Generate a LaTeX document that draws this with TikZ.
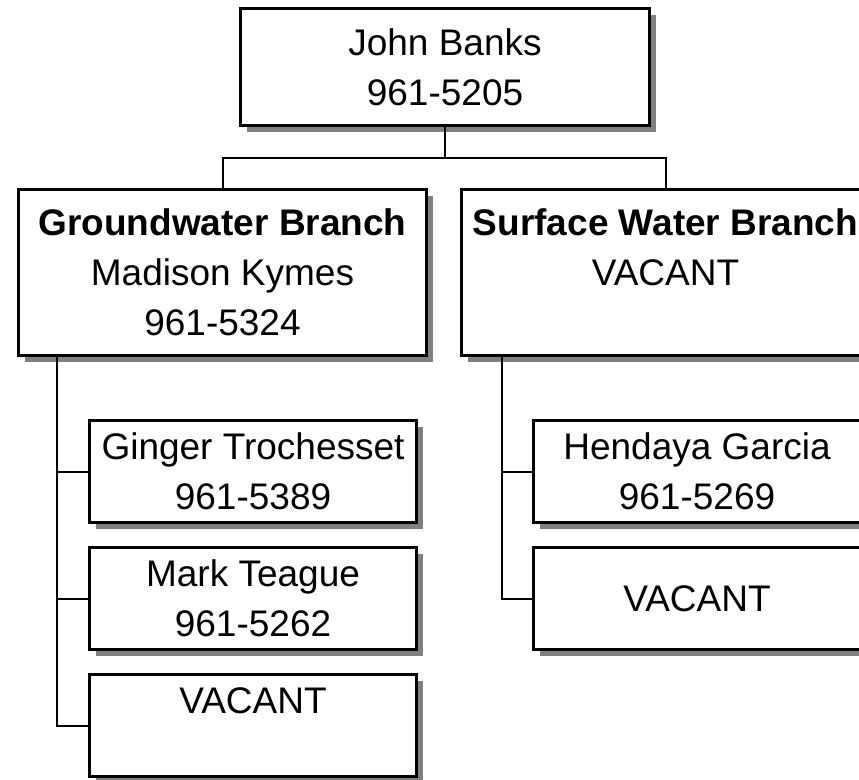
\documentclass[tikz,border=0pt]{standalone}
\usepackage{fontspec}
\setmainfont{Liberation Sans}
\usetikzlibrary{shadows}
\newcommand{\emptyline}{\rule{0pt}{1pt}}
\tikzset{
  box/.style={draw=black, line width=2.6pt, fill=white, inner sep=0pt, align=center,
    font=\fontsize{37}{50}\selectfont,
    drop shadow={shadow xshift=6pt, shadow yshift=-6pt, fill=black!50, opacity=1}},
  conn/.style={draw=black, line width=2pt}
}
\begin{document}
\begin{tikzpicture}[x=1pt,y=-1pt]
\useasboundingbox (0,0) rectangle (859,779);
\clip (0,0) rectangle (859,779);
\fill[white] (0,0) rectangle (859,779);
% boxes
\node[box, minimum width=409pt, minimum height=117pt] (top) at (445,67) {John Banks\\961-5205};
\node[box, minimum width=408pt, minimum height=166pt] (gw) at (222.5,272.5) {\textbf{Groundwater Branch}\\Madison Kymes\\961-5324};
\node[box, minimum width=408pt, minimum height=166pt] (sw) at (665.5,272.5) {\textbf{Surface Water Branch}\\VACANT\\\emptyline};
\node[box, minimum width=327pt, minimum height=102pt] (g1) at (253,471.5) {Ginger Trochesset\\961-5389};
\node[box, minimum width=327pt, minimum height=102pt] (g2) at (253,598.5) {Mark Teague\\961-5262};
\node[box, minimum width=327pt, minimum height=102pt] (g3) at (253,725.5) {VACANT\\\emptyline};
\node[box, minimum width=327pt, minimum height=102pt] (s1) at (697,471.5) {Hendaya Garcia\\961-5269};
\node[box, minimum width=327pt, minimum height=102pt] (s2) at (697,598.5) {VACANT};
% connectors
\coordinate (bus) at (445,158);
\coordinate (gwv) at (57,356);
\coordinate (swv) at (502,356);
\draw[conn] (top.south) -- (bus);
\draw[conn] (gw.north) -- (gw.north |- bus) -| (sw.north);
\draw[conn] (gwv) |- (g1.west);
\draw[conn] (gwv) |- (g2.west);
\draw[conn] (gwv) |- (g3.west);
\draw[conn] (swv) |- (s1.west);
\draw[conn] (swv) |- (s2.west);
\end{tikzpicture}
\end{document}
